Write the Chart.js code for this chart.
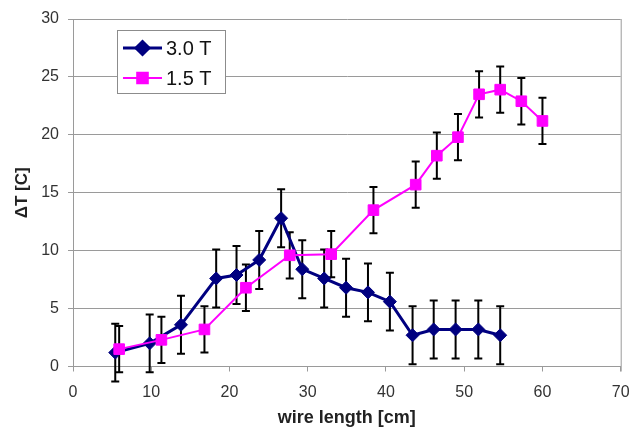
<!DOCTYPE html>
<html>
<head>
<meta charset="utf-8">
<script src="https://cdn.jsdelivr.net/npm/chart.js@4.4.1/dist/chart.umd.min.js"></script>
<style>
  body { margin: 0; background: #fff; }
  #wrap { width: 633px; height: 430px; }
</style>
</head>
<body>
<div id="wrap"><canvas id="dtChart" width="633" height="430"></canvas></div>
<script>
// wire length [cm] and temperature rise [C]
const lenHigh = [5.4, 9.8, 13.8, 18.3, 20.9, 23.8, 26.6, 29.3, 32.1, 34.9, 37.7, 40.5, 43.4, 46.1, 48.9, 51.8, 54.6];
const dtHigh  = [1.2, 2.0, 3.6, 7.6, 7.9, 9.2, 12.8, 8.4, 7.6, 6.8, 6.4, 5.6, 2.7, 3.2, 3.2, 3.2, 2.7];
const errHigh = [2.5, 2.5, 2.5, 2.5, 2.5, 2.5, 2.5, 2.5, 2.5, 2.5, 2.5, 2.5, 2.5, 2.5, 2.5, 2.5, 2.5];

const lenLow = [5.9, 11.3, 16.8, 22.1, 27.7, 33.0, 38.4, 43.8, 46.5, 49.2, 51.9, 54.6, 57.3, 60.0];
const dtLow  = [1.5, 2.3, 3.2, 6.8, 9.6, 9.7, 13.5, 15.7, 18.2, 19.8, 23.5, 23.9, 22.9, 21.2];
const errLow = [2.0, 2.0, 2.0, 2.0, 2.0, 2.0, 2.0, 2.0, 2.0, 2.0, 2.0, 2.0, 2.0, 2.0];

const seriesNames = ['3.0 T', '1.5 T'];
const xTicks = [0, 10, 20, 30, 40, 50, 60, 70];
const yTicks = [0, 5, 10, 15, 20, 25, 30];

const FONT = '"Liberation Sans", Arial, sans-serif';
const BLUE = '#000080';
const PINK = '#ff00ff';

function toPoints(xs, ys) {
  return xs.map((x, i) => ({ x: x, y: ys[i] }));
}

// black error bars with small caps
const errorBars = {
  id: 'errorBars',
  beforeDatasetsDraw(chart) {
    const ctx = chart.ctx;
    const xs = chart.scales.x, ys = chart.scales.y;
    ctx.save();
    ctx.strokeStyle = '#000';
    ctx.lineWidth = 2;
    chart.data.datasets.forEach(ds => {
      ds.data.forEach((p, i) => {
        const e = ds.errors[i];
        const px = xs.getPixelForValue(p.x);
        const top = ys.getPixelForValue(p.y + e);
        const bot = ys.getPixelForValue(p.y - e);
        ctx.beginPath();
        ctx.moveTo(px, top); ctx.lineTo(px, bot);
        ctx.moveTo(px - 4, top); ctx.lineTo(px + 4, top);
        ctx.moveTo(px - 4, bot); ctx.lineTo(px + 4, bot);
        ctx.stroke();
      });
    });
    ctx.restore();
  }
};

// right border of the plot + boxed legend inside the plot
const frameAndLegend = {
  id: 'frameAndLegend',
  afterDraw(chart) {
    const ctx = chart.ctx;
    const a = chart.chartArea;
    ctx.save();
    ctx.strokeStyle = '#9a9a9a';
    ctx.lineWidth = 1;
    ctx.beginPath();
    ctx.moveTo(a.right + 0.5, a.top);
    ctx.lineTo(a.right + 0.5, a.bottom + 5);
    ctx.stroke();

    // legend box
    ctx.fillStyle = '#fff';
    ctx.fillRect(117.5, 30.5, 108, 63);
    ctx.strokeStyle = '#8c8c8c';
    ctx.strokeRect(117.5, 30.5, 108, 63);

    const rows = [48, 78];
    chart.data.datasets.forEach((ds, i) => {
      const y = rows[i];
      ctx.strokeStyle = ds.borderColor;
      ctx.lineWidth = ds.borderWidth;
      ctx.beginPath();
      ctx.moveTo(123, y); ctx.lineTo(162, y);
      ctx.stroke();
      Chart.helpers.drawPoint(ctx, {
        pointStyle: ds.pointStyle, radius: ds.pointRadius, borderWidth: 1
      }, 142.5, y);
      ctx.fillStyle = ds.backgroundColor;
      ctx.fill();
      ctx.fillStyle = '#111';
      ctx.font = '20px ' + FONT;
      ctx.textBaseline = 'middle';
      ctx.textAlign = 'left';
      ctx.fillText(seriesNames[i], 166, y + 1);
    });
    ctx.restore();
  }
};

new Chart(document.getElementById('dtChart'), {
  type: 'scatter',
  data: {
    datasets: [
      {
        label: seriesNames[0],
        data: toPoints(lenHigh, dtHigh),
        errors: errHigh,
        showLine: true,
        borderColor: BLUE,
        backgroundColor: BLUE,
        borderWidth: 3,
        pointStyle: 'rectRot',
        pointRadius: 6.5,
        pointBorderWidth: 1,
        order: 2
      },
      {
        label: seriesNames[1],
        data: toPoints(lenLow, dtLow),
        errors: errLow,
        showLine: true,
        borderColor: PINK,
        backgroundColor: PINK,
        borderWidth: 2,
        pointStyle: 'rect',
        pointRadius: 7.5,
        pointBorderWidth: 1,
        order: 1
      }
    ]
  },
  options: {
    responsive: false,
    animation: false,
    clip: false,
    layout: { padding: { top: 19, right: 12.3, left: 0, bottom: 0 } },
    plugins: {
      legend: { display: false },
      tooltip: { enabled: false }
    },
    scales: {
      x: {
        type: 'linear',
        min: 0, max: 70,
        afterBuildTicks: s => { s.ticks = xTicks.map(v => ({ value: v })); },
        afterFit: s => { s.height = 63.5; s.paddingRight = 0; s.paddingLeft = 0; },
        grid: { drawOnChartArea: false, drawTicks: true, tickLength: 5, color: '#9a9a9a' },
        border: { color: '#9a9a9a' },
        ticks: { color: '#333', font: { family: FONT, size: 16 }, padding: 11, maxRotation: 0 },
        title: {
          display: true, text: 'wire length [cm]', color: '#222',
          font: { family: FONT, size: 18, weight: 'bold' },
          padding: { top: 0, bottom: 1 }
        }
      },
      y: {
        type: 'linear',
        min: 0, max: 30,
        afterBuildTicks: s => { s.ticks = yTicks.map(v => ({ value: v })); },
        afterFit: s => { s.width = 73; },
        grid: { color: '#9a9a9a', tickLength: 5 },
        border: { color: '#9a9a9a' },
        ticks: { color: '#333', font: { family: FONT, size: 16 }, padding: 9 },
        title: {
          display: true, text: 'ΔT [C]', color: '#222',
          font: { family: FONT, size: 17, weight: 'bold' },
          padding: { top: 12, bottom: 0 }
        }
      }
    }
  },
  plugins: [errorBars, frameAndLegend]
});
</script>
</body>
</html>
